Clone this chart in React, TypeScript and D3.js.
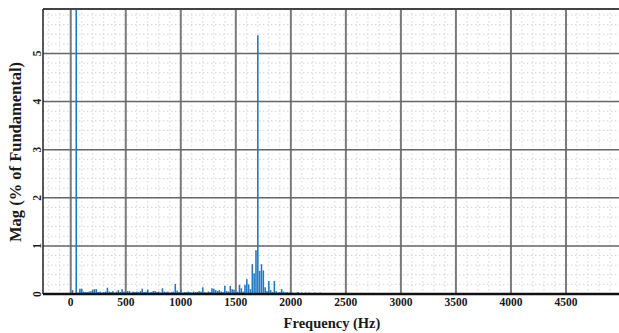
import * as d3 from 'd3';

// FFT spectrum, bins of 50/3 Hz starting at 0 Hz
const binHz = 50 / 3;
const magnitudes = [
  0.0, 0.08, 0.02, 100, 0.03, 0.11, 0.11, 0.05, 0.04, 0.04,
  0.05, 0.06, 0.09, 0.1, 0.1, 0.04, 0.05, 0.03, 0.04, 0.05,
  0.13, 0.05, 0.04, 0.06, 0.03, 0.05, 0.08, 0.04, 0.1, 0.05,
  0.04, 0.06, 0.06, 0.03, 0.05, 0.04, 0.05, 0.04, 0.06, 0.11,
  0.04, 0.05, 0.09, 0.03, 0.04, 0.06, 0.06, 0.04, 0.05, 0.03,
  0.12, 0.05, 0.04, 0.05, 0.03, 0.04, 0.05, 0.21, 0.07, 0.04,
  0.09, 0.03, 0.04, 0.04, 0.05, 0.04, 0.03, 0.05, 0.04, 0.04,
  0.06, 0.05, 0.14, 0.04, 0.03, 0.05, 0.04, 0.12, 0.11, 0.08,
  0.06, 0.08, 0.05, 0.04, 0.17, 0.06, 0.05, 0.17, 0.1, 0.09,
  0.04, 0.05, 0.19, 0.12, 0.05, 0.19, 0.31, 0.2, 0.1, 0.62,
  0.43, 0.91, 5.38, 0.48, 0.62, 0.49, 0.14, 0.06, 0.27, 0.08,
  0.04, 0.27, 0.06, 0.03, 0.04, 0.1, 0.05, 0.03, 0.04, 0.03,
  0.05, 0.03, 0.02, 0.03, 0.04, 0.02, 0.03, 0.02, 0.03, 0.02,
  0.03, 0.02, 0.02, 0.03, 0.02, 0.02, 0.03, 0.02, 0.01, 0.02,
  0.02, 0.01, 0.02, 0.01, 0.02, 0.01, 0.01, 0.01, 0.0, 0.0,
];
const xTicks = [0, 500, 1000, 1500, 2000, 2500, 3000, 3500, 4000, 4500];
const yTicks = [0, 1, 2, 3, 4, 5];
const xMinor = d3.range(-200, 5000, 100);
const yMinor = d3.range(0.2, 5.9, 0.2);

const W = 619, H = 333;
const left = 43, right = 621, top = 9, bottom = 294;
const font = '"Liberation Serif", "Times New Roman", serif';

export default function App() {
  const x = d3.scaleLinear().domain([-252, 5000]).range([left, right]);
  const y = d3.scaleLinear().domain([0, 5.925]).range([bottom, top]);
  const barW = (x(binHz) - x(0)) * 0.85;

  return (
    <svg width={W} height={H} style={{ position: 'absolute', left: 0, top: 0, background: '#fff' }}>
      <defs>
        <clipPath id="plot">
          <rect x={left} y={top} width={right - left} height={bottom - top} />
        </clipPath>
      </defs>
      {/* minor grid */}
      <g stroke="#d4d4d4" strokeWidth={1} strokeDasharray="1.5,2.5">
        {xMinor.filter(v => !xTicks.includes(v)).map(v => (
          <line key={'xm' + v} x1={x(v)} x2={x(v)} y1={top} y2={bottom} />
        ))}
        {yMinor.map(v => (
          <line key={'ym' + v} x1={left} x2={right} y1={y(v)} y2={y(v)} />
        ))}
      </g>
      {/* major grid */}
      <g>
        {xTicks.map(v => (
          <line key={'xg' + v} x1={x(v)} x2={x(v)} y1={top} y2={bottom} stroke="#7a7a7a" strokeWidth={2} />
        ))}
        {yTicks.slice(1).map(v => (
          <line key={'yg' + v} x1={left} x2={right} y1={y(v)} y2={y(v)} stroke="#666" strokeWidth={1.5} />
        ))}
      </g>
      {/* bars */}
      <g clipPath="url(#plot)" fill="#1f7ac3">
        {magnitudes.map((m, i) => (
          <rect key={i} x={x(i * binHz) - barW / 2} width={barW}
            y={y(m)} height={bottom - y(m)} />
        ))}
      </g>
      {/* frame */}
      <line x1={left} x2={right} y1={top} y2={top} stroke="#444" strokeWidth={2} />
      <line x1={left} x2={left} y1={top} y2={bottom} stroke="#222" strokeWidth={1.5} />
      <line x1={left} x2={right} y1={bottom} y2={bottom} stroke="#111" strokeWidth={2.5} />
      {/* tick labels */}
      <g fontFamily={font} fontWeight="bold" fontSize={11.5} fill="#1a1a1a" textAnchor="middle">
        {xTicks.map(v => (
          <text key={'xt' + v} x={x(v)} y={306}>{v}</text>
        ))}
        {yTicks.map(v => (
          <text key={'yt' + v} transform={`translate(${41},${y(v)}) rotate(-90)`} y={0}>{v}</text>
        ))}
      </g>
      <text x={332} y={328} textAnchor="middle" fontFamily={font} fontWeight="bold" fontSize={14.5} fill="#1a1a1a">
        Frequency (Hz)
      </text>
      <text transform={`translate(21,152) rotate(-90)`} textAnchor="middle" fontFamily={font}
        fontWeight="bold" fontSize={16.5} fill="#1a1a1a">
        Mag (% of Fundamental)
      </text>
    </svg>
  );
}
